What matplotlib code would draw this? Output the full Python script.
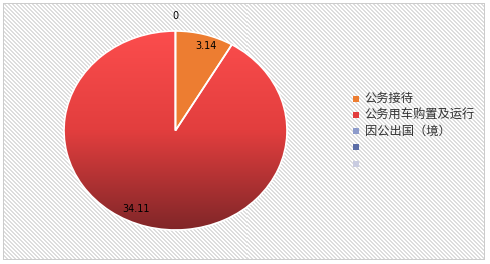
import numpy as np
import matplotlib
matplotlib.use("Agg")
import matplotlib.pyplot as plt
from matplotlib.patches import Rectangle
from matplotlib.colors import LinearSegmentedColormap

plt.rcParams['font.family'] = ['Noto Sans CJK SC', 'DejaVu Sans']

# ---- data ----
categories = ['公务接待', '公务用车购置及运行', '因公出国（境）', '', '']
values = [3.14, 34.11, 0]
value_labels = ['3.14', '34.11', '0']
legend_colors = ['#ED7D31', '#E23D3D', '#8D9BCB', '#5B6DA6', '#C9CCE0']

W, H, DPI = 490, 264, 100
fig = plt.figure(figsize=(W / DPI, H / DPI), dpi=DPI)

# ---- background: white outside, diagonal hatch inside a thin grey border ----
bg = np.ones((H, W, 3))
yy, xx = np.mgrid[0:H, 0:W]
stripe = ((xx - yy) % 4) < 2
inner = (xx >= 3) & (xx <= 483) & (yy >= 3) & (yy <= 259)
grey = np.array([0.87, 0.87, 0.87])
bg[stripe & inner] = grey
border = inner & ((xx == 3) | (xx == 483) | (yy == 3) | (yy == 259))
bg[border] = [0.80, 0.80, 0.80]
axbg = fig.add_axes([0, 0, 1, 1])
axbg.imshow(bg, aspect='auto', interpolation='nearest', extent=(0, W, H, 0))
axbg.set_xlim(0, W)
axbg.set_ylim(H, 0)
axbg.axis('off')

# ---- pie (slightly elliptical like the reference) ----
px0, px1, py0, py1 = 64, 287, 31, 230
ax = fig.add_axes([px0 / W, 1 - py1 / H, (px1 - px0) / W, (py1 - py0) / H])
ax.set_facecolor('none')
wedges, _ = ax.pie(values, colors=['#ED7D31', '#E23D3D', '#8D9BCB'],
                   startangle=90, counterclock=False, radius=1.0,
                   wedgeprops=dict(edgecolor='white', linewidth=1.2))
ax.set_aspect('auto')
ax.set_xlim(-1, 1)
ax.set_ylim(-1, 1)
ax.axis('off')

# gradient fill for the big red slice
red_wedge = wedges[1]
red_wedge.set_facecolor('none')
red_wedge.set_zorder(3)
cmap = LinearSegmentedColormap.from_list(
    'redgrad', [(0.0, (252/255, 77/255, 77/255)),
                (0.5, (226/255, 62/255, 62/255)),
                (1.0, (128/255, 38/255, 40/255))])
grad = np.linspace(0, 1, 256).reshape(-1, 1)
im = ax.imshow(grad, cmap=cmap, extent=(-1, 1, -1, 1), aspect='auto',
               origin='upper', zorder=0.5)
im.set_clip_path(red_wedge)
wedges[0].set_zorder(2)

# value labels
total = sum(values)
angles = []
start = 90.0
for v in values:
    span = 360.0 * v / total
    angles.append(start - span / 2)
    start -= span
label_pos = [(angles[0] - 2.5, 0.89), (angles[1] - 9, 0.865), (90.0, 1.15)]
for (ang, dist), txt in zip(label_pos, value_labels):
    a = np.deg2rad(ang)
    ax.text(dist * np.cos(a), dist * np.sin(a), txt, ha='center', va='center',
            fontsize=7, family='DejaVu Sans', color='black', zorder=5,
            clip_on=False)

# ---- legend ----
axl = fig.add_axes([0, 0, 1, 1])
axl.set_facecolor('none')
axl.set_xlim(0, W)
axl.set_ylim(H, 0)
axl.axis('off')
for i, (cat, col) in enumerate(zip(categories, legend_colors)):
    y = 98.5 + i * 16.3
    axl.add_patch(Rectangle((352.5, y - 3), 6, 6, facecolor=col, edgecolor='none'))
    axl.text(364.5, y, cat, ha='left', va='center', fontsize=8.8, color='#333333')

fig.savefig('out.png', dpi=DPI)
